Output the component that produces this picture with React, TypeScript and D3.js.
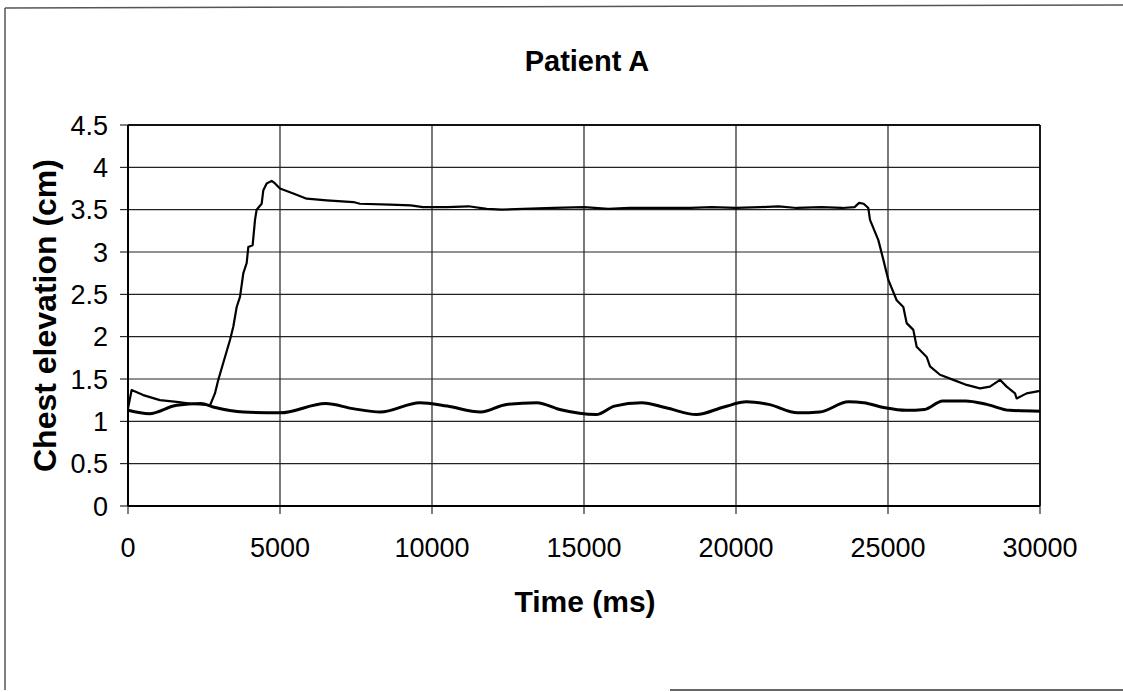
import * as d3 from "d3";

// series: [time ms, elevation cm]
const raisedTime = [
  0, 120, 500, 1050, 1600, 2040, 2700, 2860, 2970, 3190, 3355, 3465, 3575, 3684, 3794, 3904,
  3958, 4100, 4178, 4232, 4397, 4452, 4561, 4726, 4836, 5000, 5438, 5877, 6535, 7412, 7632,
  8618, 9300, 9700, 10500, 11200, 11800, 12300, 13000, 14000, 15000, 15800, 16500, 17500,
  18500, 19200, 20000, 20800, 21400, 22000, 22800, 23500, 23900, 24050, 24200, 24352, 24408,
  24682, 24846, 25011, 25285, 25504, 25614, 25833, 25943, 26272, 26382, 26710, 27149, 27588,
  28026, 28355, 28684, 28903, 29178, 29232, 29561, 30000,
];
const raisedValue = [
  1.15, 1.37, 1.31, 1.25, 1.23, 1.21, 1.19, 1.33, 1.49, 1.76, 1.96, 2.12, 2.35, 2.47, 2.75, 2.87,
  3.06, 3.08, 3.38, 3.5, 3.57, 3.73, 3.81, 3.84, 3.81, 3.75, 3.69, 3.63, 3.61, 3.59, 3.57,
  3.56, 3.55, 3.53, 3.53, 3.54, 3.51, 3.5, 3.51, 3.52, 3.53, 3.51, 3.52, 3.52,
  3.52, 3.53, 3.52, 3.53, 3.54, 3.52, 3.53, 3.52, 3.53, 3.58, 3.57, 3.52, 3.38,
  3.14, 2.91, 2.67, 2.43, 2.35, 2.16, 2.08, 1.88, 1.76, 1.65, 1.55, 1.49, 1.43,
  1.39, 1.41, 1.49, 1.41, 1.33, 1.27, 1.33, 1.36,
];

const baseTime = [
  0, 700, 1600, 2400, 2800, 3800, 5000, 6500, 7400, 8300, 9600, 10500, 11600, 12450, 13450,
  14200, 15400, 16000, 16900, 17700, 18700, 19600, 20350, 21070, 22030, 22750, 23700, 24200,
  24900, 25600, 26200, 26800, 27550, 28250, 29000, 30000,
];
const baseValue = [
  1.13, 1.09, 1.19, 1.21, 1.17, 1.11, 1.1, 1.21, 1.15, 1.11, 1.22, 1.18, 1.11, 1.2, 1.22,
  1.14, 1.08, 1.18, 1.22, 1.16, 1.08, 1.17, 1.23, 1.2, 1.1, 1.11, 1.23, 1.22,
  1.16, 1.13, 1.14, 1.24, 1.24, 1.2, 1.13, 1.12,
];

const xTicks = [0, 5000, 10000, 15000, 20000, 25000, 30000];
const yTicks = [0, 0.5, 1, 1.5, 2, 2.5, 3, 3.5, 4, 4.5];

const W = 1123;
const H = 692;
const plot = { left: 128, right: 1040, top: 125, bottom: 506 };
const font = "'Liberation Sans', Arial, sans-serif";

export default function App() {
  const x = d3.scaleLinear().domain([0, 30000]).range([plot.left, plot.right]);
  const y = d3.scaleLinear().domain([0, 4.5]).range([plot.bottom, plot.top]);

  const line = d3
    .line<[number, number]>()
    .x((d) => x(d[0]))
    .y((d) => y(d[1]));
  const smooth = d3
    .line<[number, number]>()
    .x((d) => x(d[0]))
    .y((d) => y(d[1]))
    .curve(d3.curveMonotoneX);

  const raised = raisedTime.map((t, i) => [t, raisedValue[i]] as [number, number]);
  const base = baseTime.map((t, i) => [t, baseValue[i]] as [number, number]);

  return (
    <svg
      width={W}
      height={H}
      style={{ position: "absolute", left: 0, top: 0, background: "#fff" }}
      fontFamily={font}
    >
      {/* scanned page frame */}
      <line x1={5} y1={8} x2={W} y2={5} stroke="#555" strokeWidth={1.5} />
      <line x1={5} y1={8} x2={5} y2={690} stroke="#555" strokeWidth={1.5} />
      <line x1={670} y1={690} x2={W} y2={690} stroke="#666" strokeWidth={2} />

      <text x={587} y={71} textAnchor="middle" fontSize={29} fontWeight="bold">
        Patient A
      </text>

      {/* grid */}
      {yTicks.map((v) => (
        <line key={"gy" + v} x1={plot.left} x2={plot.right} y1={y(v)} y2={y(v)} stroke="#222" strokeWidth={1.2} />
      ))}
      {xTicks.map((v) => (
        <line key={"gx" + v} x1={x(v)} x2={x(v)} y1={plot.top} y2={plot.bottom} stroke="#222" strokeWidth={1.2} />
      ))}

      {/* axes */}
      <line x1={plot.left} x2={plot.left} y1={plot.top} y2={plot.bottom} stroke="#000" strokeWidth={2} />
      <line x1={plot.left} x2={plot.right} y1={plot.bottom} y2={plot.bottom} stroke="#000" strokeWidth={2} />
      <line x1={plot.right} x2={plot.right} y1={plot.top} y2={plot.bottom} stroke="#111" strokeWidth={1.8} />
      <line x1={plot.left} x2={plot.right} y1={plot.top} y2={plot.top} stroke="#111" strokeWidth={1.8} />

      {yTicks.map((v) => (
        <g key={"ty" + v}>
          <line x1={plot.left - 8} x2={plot.left} y1={y(v)} y2={y(v)} stroke="#000" strokeWidth={1} />
          <text x={108} y={y(v)} dy="0.36em" textAnchor="end" fontSize={27}>
            {v}
          </text>
        </g>
      ))}
      {xTicks.map((v) => (
        <g key={"tx" + v}>
          <line x1={x(v)} x2={x(v)} y1={plot.bottom} y2={plot.bottom + 8} stroke="#000" strokeWidth={1} />
          <text x={x(v)} y={557} textAnchor="middle" fontSize={27}>
            {v}
          </text>
        </g>
      ))}

      <text x={585} y={612} textAnchor="middle" fontSize={30} fontWeight="bold">
        Time (ms)
      </text>
      <text
        transform={`translate(56, ${(plot.top + plot.bottom) / 2}) rotate(-90)`}
        textAnchor="middle"
        fontSize={32}
        fontWeight="bold"
      >
        Chest elevation (cm)
      </text>

      <path d={smooth(base) ?? ""} fill="none" stroke="#000" strokeWidth={3} strokeLinejoin="round" />
      <path d={line(raised) ?? ""} fill="none" stroke="#000" strokeWidth={2.2} strokeLinejoin="round" />
    </svg>
  );
}
